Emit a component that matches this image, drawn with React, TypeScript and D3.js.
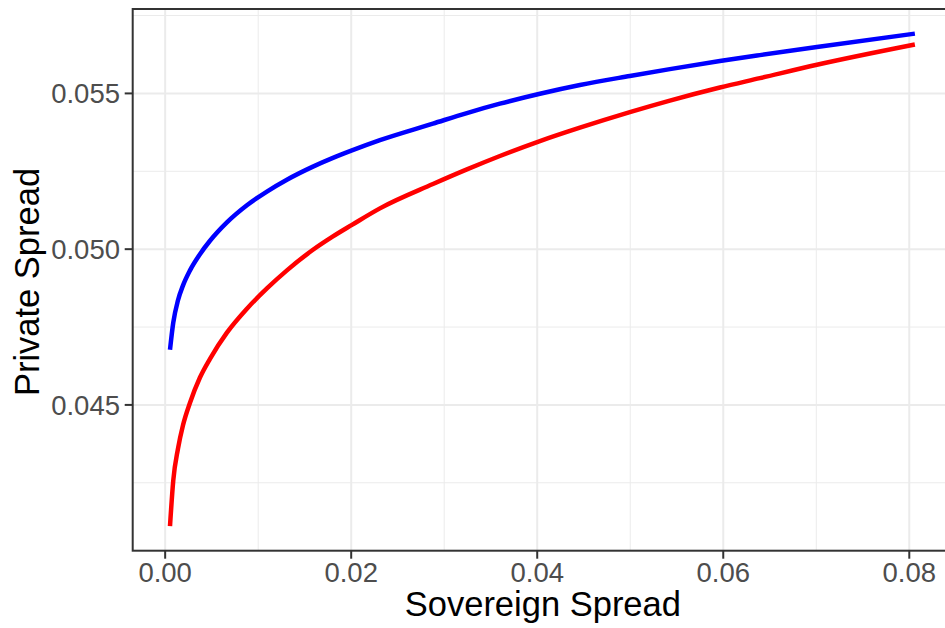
import React from "react";
import * as d3 from "d3";

// sovereign spread grid (shared by both series)
const sovereign = [
  0.00052, 0.00087, 0.00138, 0.00191, 0.00267, 0.00374, 0.00482, 0.00664,
  0.00879, 0.01094, 0.01309, 0.01589, 0.01804, 0.02008, 0.02309, 0.02879,
  0.03244, 0.03599, 0.04029, 0.04459, 0.04996, 0.05426, 0.05964, 0.06394,
  0.07007, 0.0806,
];

const privateBlue = [
  0.04677, 0.04764, 0.04836, 0.04883, 0.04932, 0.04984, 0.05027, 0.05086,
  0.05141, 0.05185, 0.05223, 0.05265, 0.05293, 0.05317, 0.0535, 0.05403,
  0.05437, 0.05467, 0.05499, 0.05527, 0.05556, 0.05578, 0.05604, 0.05623,
  0.05649, 0.05692,
];

const privateRed = [
  0.04111, 0.04257, 0.0436, 0.04434, 0.04507, 0.04588, 0.04648, 0.04732,
  0.04809, 0.04874, 0.04932, 0.04998, 0.05041, 0.05078, 0.05131, 0.05209,
  0.05256, 0.05299, 0.05347, 0.0539, 0.0544, 0.05477, 0.05519, 0.05549,
  0.05592, 0.05657,
];

const xTicks = [0, 0.02, 0.04, 0.06, 0.08];
const xMinor = [0.01, 0.03, 0.05, 0.07];
const yTicks = [0.045, 0.05, 0.055];
const yMinor = [0.0425, 0.0475, 0.0525, 0.0575];

const W = 945;
const H = 628;
const panel = { left: 132.7, top: 9, right: 953, bottom: 550.7 };
const font = "'Liberation Sans', Arial, Helvetica, sans-serif";

export default function App() {
  const x = d3
    .scaleLinear()
    .domain([-0.00349, 0.0847])
    .range([panel.left, panel.right]);
  const y = d3
    .scaleLinear()
    .domain([0.04032, 0.05771])
    .range([panel.bottom, panel.top]);

  const line = d3
    .line<[number, number]>()
    .x((d) => x(d[0]))
    .y((d) => y(d[1]))
    .curve(d3.curveMonotoneX);

  const blue = sovereign.map((s, i) => [s, privateBlue[i]] as [number, number]);
  const red = sovereign.map((s, i) => [s, privateRed[i]] as [number, number]);

  return (
    <svg
      width={W}
      height={H}
      style={{ position: "absolute", left: 0, top: 0, background: "#fff" }}
    >
      <rect x={0} y={0} width={W} height={H} fill="#fff" />
      {/* 그리드 */}
      {xMinor.map((t) => (
        <line key={"xm" + t} x1={x(t)} x2={x(t)} y1={panel.top} y2={panel.bottom} stroke="#EBEBEB" strokeWidth={1} />
      ))}
      {yMinor.map((t) => (
        <line key={"ym" + t} x1={panel.left} x2={panel.right} y1={y(t)} y2={y(t)} stroke="#EBEBEB" strokeWidth={1} />
      ))}
      {xTicks.map((t) => (
        <line key={"xg" + t} x1={x(t)} x2={x(t)} y1={panel.top} y2={panel.bottom} stroke="#EBEBEB" strokeWidth={2} />
      ))}
      {yTicks.map((t) => (
        <line key={"yg" + t} x1={panel.left} x2={panel.right} y1={y(t)} y2={y(t)} stroke="#EBEBEB" strokeWidth={2} />
      ))}

      {/* 곡선 */}
      <path d={line(blue) ?? ""} fill="none" stroke="#0000FF" strokeWidth={4.5} />
      <path d={line(red) ?? ""} fill="none" stroke="#FF0000" strokeWidth={4.5} />

      {/* 패널 테두리 */}
      <rect
        x={panel.left}
        y={panel.top}
        width={panel.right - panel.left}
        height={panel.bottom - panel.top}
        fill="none"
        stroke="#333333"
        strokeWidth={2}
      />

      {/* x축 */}
      {xTicks.map((t) => (
        <g key={"xt" + t}>
          <line x1={x(t)} x2={x(t)} y1={panel.bottom} y2={panel.bottom + 8} stroke="#333333" strokeWidth={2} />
          <text x={x(t)} y={581.5} textAnchor="middle" fontFamily={font} fontSize={27.5} fill="#4D4D4D">
            {d3.format(".2f")(t)}
          </text>
        </g>
      ))}
      {/* y축 */}
      {yTicks.map((t) => (
        <g key={"yt" + t}>
          <line x1={panel.left - 8} x2={panel.left} y1={y(t)} y2={y(t)} stroke="#333333" strokeWidth={2} />
          <text x={120} y={y(t) + 10} textAnchor="end" fontFamily={font} fontSize={27.5} fill="#4D4D4D">
            {d3.format(".3f")(t)}
          </text>
        </g>
      ))}

      <text x={(panel.left + panel.right) / 2} y={616} textAnchor="middle" fontFamily={font} fontSize={34.5} fill="#000">
        Sovereign Spread
      </text>
      <text
        transform={`translate(38.5, ${282}) rotate(-90)`}
        textAnchor="middle"
        fontFamily={font}
        fontSize={34.5}
        fill="#000"
      >
        Private Spread
      </text>
    </svg>
  );
}
